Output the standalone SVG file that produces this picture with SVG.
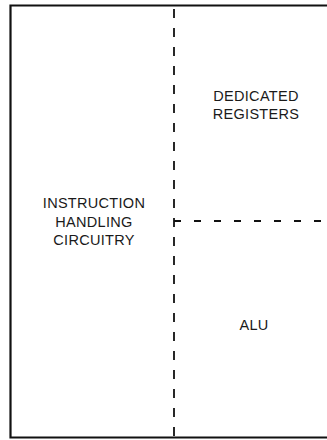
<svg xmlns="http://www.w3.org/2000/svg" width="327" height="440" viewBox="0 0 327 440">
  <style>
    .frame { fill: none; stroke: #111; stroke-width: 2.2; }
    .div { fill: none; stroke: #111; stroke-width: 1.8; }
    .lbl { font-family: "Liberation Sans", Arial, sans-serif; font-size: 14.5px; letter-spacing: 0.3px; fill: #1a1a1a; text-anchor: middle; }
  </style>
  <rect width="327" height="440" fill="#fff"/>
  <!-- outer frame: open on the right -->
  <g id="frame">
    <path class="frame" d="M327 5.5 H10.5 V437.5 H327"/>
  </g>
  <!-- dashed partitions -->
  <g id="connectors">
    <line class="div" x1="174" y1="9" x2="174" y2="437" stroke-dasharray="9 10"/>
    <line class="div" x1="174" y1="221" x2="327" y2="221" stroke-dasharray="7 13"/>
  </g>
  <g id="instruction-handling">
    <text class="lbl" x="94" y="208">INSTRUCTION</text>
    <text class="lbl" x="94" y="226.5">HANDLING</text>
    <text class="lbl" x="94" y="245">CIRCUITRY</text>
  </g>
  <g id="dedicated-registers">
    <text class="lbl" x="256" y="101">DEDICATED</text>
    <text class="lbl" x="256" y="119">REGISTERS</text>
  </g>
  <g id="alu">
    <text class="lbl" x="254" y="330">ALU</text>
  </g>
</svg>
